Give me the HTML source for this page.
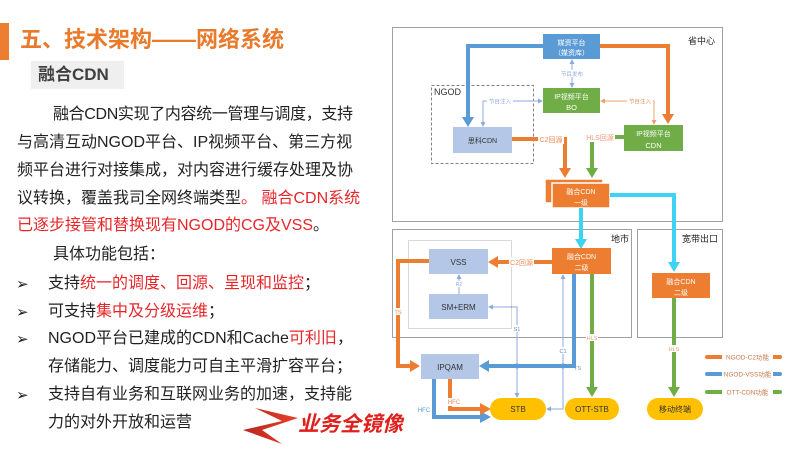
<!DOCTYPE html>
<html><head><meta charset="utf-8">
<style>
html,body{margin:0;padding:0;}
body{width:800px;height:450px;position:relative;overflow:hidden;background:#fff;font-family:"Liberation Sans","Noto Sans CJK SC",sans-serif;}
.abs{position:absolute;white-space:nowrap;}
.p{font-size:16px;line-height:28px;color:#222;}
.r{color:#e8262a;}
.b{font-family:"DejaVu Sans",sans-serif;font-size:15px;line-height:28px;color:#222;}
</style></head><body>
<div class="abs" style="left:0;top:23px;width:9px;height:37px;background:#ed7d31;"></div>
<div class="abs" style="left:20px;top:28px;font-size:22px;line-height:24px;font-weight:bold;color:#e97a2c;">五、技术架构——网络系统</div>
<div class="abs" style="left:31px;top:61px;width:93px;height:28px;background:#efefef;"></div>
<div class="abs" style="left:38px;top:62px;font-size:17px;line-height:26px;font-weight:bold;color:#404040;">融合CDN</div>

<div class="abs p" style="left:53px;top:101px;letter-spacing:-0.35px;">融合CDN实现了内容统一管理与调度，支持</div>
<div class="abs p" style="left:17px;top:129px;">与高清互动NGOD平台、IP视频平台、第三方视</div>
<div class="abs p" style="left:17px;top:157px;">频平台进行对接集成，对内容进行缓存处理及协</div>
<div class="abs p" style="left:17px;top:185px;">议转换，覆盖我司全网终端类型<span class="r">。 融合CDN系统</span></div>
<div class="abs p" style="left:17px;top:212px;"><span class="r">已逐步接管和替换现有NGOD的CG及VSS</span>。</div>
<div class="abs p" style="left:53px;top:241px;">具体功能包括：</div>

<div class="abs b" style="left:16px;top:270px;">➢</div>
<div class="abs p" style="left:48px;top:270px;">支持<span class="r">统一的调度、回源、呈现和监控</span>；</div>
<div class="abs b" style="left:16px;top:298px;">➢</div>
<div class="abs p" style="left:48px;top:298px;">可支持<span class="r">集中及分级运维</span>；</div>
<div class="abs b" style="left:16px;top:325px;">➢</div>
<div class="abs p" style="left:48px;top:325px;">NGOD平台已建成的CDN和Cache<span class="r">可利旧</span>，</div>
<div class="abs p" style="left:48px;top:353px;">存储能力、调度能力可自主平滑扩容平台；</div>
<div class="abs b" style="left:16px;top:381px;">➢</div>
<div class="abs p" style="left:48px;top:381px;">支持自有业务和互联网业务的加速，支持能</div>
<div class="abs p" style="left:48px;top:409px;">力的对外开放和运营</div>

<div class="abs" style="left:298px;top:413px;font-size:21px;line-height:24px;font-weight:bold;font-style:italic;color:#e0201c;">业务全镜像</div>

<svg class="abs" style="left:0;top:0;" width="800" height="450" viewBox="0 0 800 450" font-family="Liberation Sans, Noto Sans CJK SC, sans-serif">
<defs>
<linearGradient id="zg" x1="0" y1="0" x2="1" y2="0"><stop offset="0" stop-color="#b8261c"/><stop offset="1" stop-color="#e8402c"/></linearGradient>
</defs>
<polygon points="255,408 298,418 262,430 282,444 243,430 282,421" fill="url(#zg)"/>

<rect x="392.5" y="27.5" width="330" height="194" fill="none" stroke="#a0a0a0" stroke-width="1"/>
<text x="688" y="44" font-size="9" fill="#222">省中心</text>
<rect x="392.5" y="229.5" width="239" height="108" fill="none" stroke="#a0a0a0" stroke-width="1"/>
<text x="611" y="242" font-size="9" fill="#222">地市</text>
<rect x="637.5" y="229.5" width="85" height="108" fill="none" stroke="#a0a0a0" stroke-width="1"/>
<text x="682" y="242" font-size="9" fill="#222">宽带出口</text>

<rect x="431.5" y="85.5" width="102" height="78" fill="none" stroke="#808080" stroke-width="1" stroke-dasharray="3,2"/>
<text x="434" y="95" font-size="9" fill="#333">NGOD</text>
<rect x="408.5" y="240.5" width="103" height="88" fill="none" stroke="#b0b0b0" stroke-width="1" stroke-dasharray="1,1"/>

<path d="M543,46 H468 V118" fill="none" stroke="#5b9bd5" stroke-width="4"/>
<polygon points="462,117 474,117 468,127" fill="#5b9bd5"/>
<path d="M600,46 H668 V115" fill="none" stroke="#ed7d31" stroke-width="4"/>
<polygon points="662,114 674,114 668,124" fill="#ed7d31"/>

<line x1="572" y1="63" x2="572" y2="84" stroke="#8faadc" stroke-width="1"/>
<polygon points="569.5,64 574.5,64 572,59" fill="#8faadc"/>
<polygon points="569.5,83 574.5,83 572,88" fill="#8faadc"/>
<rect x="559" y="70" width="26" height="7" fill="#fff"/>
<text x="572" y="76" font-size="5.5" fill="#8faadc" text-anchor="middle">节目发布</text>

<path d="M483,123 V101 H539" fill="none" stroke="#8faadc" stroke-width="1"/>
<polygon points="538,98.5 538,103.5 543,101" fill="#8faadc"/>
<polygon points="480.5,122 485.5,122 483,127" fill="#8faadc"/>
<rect x="487" y="98" width="26" height="7" fill="#fff"/>
<text x="500" y="103.5" font-size="5.5" fill="#8faadc" text-anchor="middle">节目注入</text>

<path d="M604,101 H654 V121" fill="none" stroke="#eda070" stroke-width="1"/>
<polygon points="605,98.5 605,103.5 600,101" fill="#eda070"/>
<polygon points="651.5,120 656.5,120 654,125" fill="#eda070"/>
<rect x="627" y="98" width="26" height="7" fill="#fff"/>
<text x="640" y="103.5" font-size="5.5" fill="#e09060" text-anchor="middle">节目注入</text>

<rect x="543" y="34" width="57" height="25" fill="#5b9bd5"/>
<text x="571.5" y="45" font-size="7" fill="#fff" text-anchor="middle">媒资平台</text>
<text x="571.5" y="55" font-size="7" fill="#fff" text-anchor="middle">（媒资库）</text>
<rect x="543" y="88" width="57" height="25" fill="#70ad47"/>
<text x="571.5" y="99" font-size="7" fill="#fff" text-anchor="middle">IP视频平台</text>
<text x="571.5" y="110" font-size="7.5" fill="#fff" text-anchor="middle">BO</text>
<rect x="453" y="127" width="59" height="26" fill="#b4c7e7"/>
<text x="482.5" y="143" font-size="7" fill="#333" text-anchor="middle">思科CDN</text>
<rect x="624" y="125" width="59" height="26" fill="#70ad47"/>
<text x="653.5" y="136" font-size="7" fill="#fff" text-anchor="middle">IP视频平台</text>
<text x="653.5" y="148" font-size="7.5" fill="#fff" text-anchor="middle">CDN</text>

<path d="M512,139 H565 V169" fill="none" stroke="#ed7d31" stroke-width="4"/>
<polygon points="559,168 571,168 565,178" fill="#ed7d31"/>
<rect x="538" y="134" width="26" height="10" fill="#fff"/>
<text x="551" y="142" font-size="7" fill="#f08a5a" text-anchor="middle">C2回源</text>
<path d="M624,137 H592 V169" fill="none" stroke="#70ad47" stroke-width="4"/>
<polygon points="586,168 598,168 592,178" fill="#70ad47"/>
<rect x="585" y="132" width="30" height="10" fill="#fff"/>
<text x="600" y="140" font-size="7" fill="#f09a7a" text-anchor="middle">HLS回源</text>

<rect x="545" y="179" width="58" height="24" fill="#ed7d31" stroke="#fff" stroke-width="1.5"/>
<rect x="552" y="183" width="58" height="25" fill="#ed7d31" stroke="#fff" stroke-width="1.5"/>
<text x="581" y="194" font-size="7" fill="#fff" text-anchor="middle">融合CDN</text>
<text x="581" y="205" font-size="7" fill="#fff" text-anchor="middle">一级</text>

<path d="M581,208 V240" fill="none" stroke="#3fd3f3" stroke-width="4"/>
<polygon points="575,239 587,239 581,249" fill="#3fd3f3"/>
<path d="M610,195 H674 V263" fill="none" stroke="#3fd3f3" stroke-width="4"/>
<polygon points="668,262 680,262 674,272" fill="#3fd3f3"/>

<rect x="429" y="249" width="59" height="25" fill="#b4c7e7"/>
<text x="458.5" y="265" font-size="8" fill="#333" text-anchor="middle">VSS</text>
<rect x="429" y="294" width="59" height="25" fill="#b4c7e7"/>
<text x="458.5" y="310" font-size="8" fill="#333" text-anchor="middle">SM+ERM</text>
<line x1="459" y1="278" x2="459" y2="294" stroke="#8faadc" stroke-width="1"/>
<polygon points="456.5,279 461.5,279 459,274" fill="#8faadc"/>
<rect x="455" y="281" width="8" height="6" fill="#fff"/>
<text x="459" y="286" font-size="5" fill="#8faadc" text-anchor="middle">R2</text>

<rect x="552" y="248" width="59" height="26" fill="#ed7d31"/>
<text x="581.5" y="259" font-size="7" fill="#fff" text-anchor="middle">融合CDN</text>
<text x="581.5" y="270" font-size="7" fill="#fff" text-anchor="middle">二级</text>
<rect x="652" y="273" width="58" height="25" fill="#ed7d31"/>
<text x="681" y="284" font-size="7" fill="#fff" text-anchor="middle">融合CDN</text>
<text x="681" y="295" font-size="7" fill="#fff" text-anchor="middle">二级</text>

<path d="M552,262 H497" fill="none" stroke="#ed7d31" stroke-width="4"/>
<polygon points="498,256 498,268 488,262" fill="#ed7d31"/>
<rect x="509" y="257" width="25" height="10" fill="#fff"/>
<text x="521.5" y="265" font-size="7" fill="#f08a5a" text-anchor="middle">C2回源</text>

<path d="M429,261 H398 V366 H411" fill="none" stroke="#ed7d31" stroke-width="4"/>
<polygon points="410,360 410,372 420,366" fill="#ed7d31"/>
<rect x="393" y="308" width="10" height="7" fill="#fff"/>
<text x="398" y="314" font-size="5.5" fill="#f08a5a" text-anchor="middle">TS</text>

<path d="M574,274 V366 H488" fill="none" stroke="#5b9bd5" stroke-width="4"/>
<polygon points="489,360 489,372 479,366" fill="#5b9bd5"/>
<text x="574" y="370" font-size="5.5" fill="#5b9bd5">TS</text>

<path d="M592,274 V388" fill="none" stroke="#70ad47" stroke-width="4"/>
<polygon points="586,387 598,387 592,397" fill="#70ad47"/>
<rect x="586" y="334" width="12" height="7" fill="#fff"/>
<text x="592" y="340" font-size="5.5" fill="#e0a080" text-anchor="middle">HLS</text>
<path d="M674,298 V388" fill="none" stroke="#70ad47" stroke-width="4"/>
<polygon points="668,387 680,387 674,397" fill="#70ad47"/>
<rect x="668" y="345" width="12" height="7" fill="#fff"/>
<text x="674" y="351" font-size="5.5" fill="#e0a080" text-anchor="middle">HLS</text>

<path d="M492,307 H517 V394" fill="none" stroke="#8faadc" stroke-width="1"/>
<polygon points="493,304.5 493,309.5 488,307" fill="#8faadc"/>
<polygon points="514.5,393 519.5,393 517,398" fill="#8faadc"/>
<rect x="512" y="325" width="10" height="7" fill="#fff"/>
<text x="517" y="331" font-size="5.5" fill="#5b8bc5" text-anchor="middle">S1</text>
<path d="M550,409 H563 V278" fill="none" stroke="#8faadc" stroke-width="1"/>
<polygon points="560.5,279 565.5,279 563,274" fill="#8faadc"/>
<polygon points="551,406.5 551,411.5 546,409" fill="#8faadc"/>
<rect x="558" y="347" width="10" height="7" fill="#fff"/>
<text x="563" y="353" font-size="5.5" fill="#5b8bc5" text-anchor="middle">C1</text>
<circle cx="517" cy="366" r="2.5" fill="#5b9bd5"/>
<circle cx="563" cy="366" r="2.5" fill="#5b9bd5"/>

<rect x="421" y="354" width="58" height="25" fill="#b4c7e7"/>
<text x="450" y="370" font-size="8" fill="#333" text-anchor="middle">IPQAM</text>

<path d="M434,379 V417 H481" fill="none" stroke="#5b9bd5" stroke-width="4"/>
<polygon points="480,411 480,423 491,417" fill="#5b9bd5"/>
<text x="424" y="412" font-size="6" fill="#5b9bd5" text-anchor="middle">HFC</text>
<path d="M450,379 V409 H481" fill="none" stroke="#ed7d31" stroke-width="4"/>
<polygon points="480,403 480,415 491,409" fill="#ed7d31"/>
<rect x="446" y="398" width="16" height="8" fill="#fff"/>
<text x="454" y="404" font-size="6" fill="#f08a5a" text-anchor="middle">HFC</text>

<rect x="490" y="398" width="56" height="22" rx="11" fill="#ffc000"/>
<text x="518" y="412" font-size="8" fill="#333" text-anchor="middle">STB</text>
<rect x="565" y="398" width="54" height="22" rx="11" fill="#ffc000"/>
<text x="592" y="412" font-size="8" fill="#333" text-anchor="middle">OTT-STB</text>
<rect x="647" y="398" width="56" height="22" rx="11" fill="#ffc000"/>
<text x="675" y="412" font-size="8" fill="#333" text-anchor="middle">移动终端</text>

<line x1="707" y1="357" x2="780" y2="357" stroke="#ed7d31" stroke-width="4" stroke-linecap="round"/>
<rect x="722" y="353" width="51" height="8" fill="#fff"/>
<text x="747.5" y="359.5" font-size="6.5" fill="#c8784a" text-anchor="middle">NGOD-C2功能</text>
<line x1="707" y1="374" x2="780" y2="374" stroke="#5b9bd5" stroke-width="4" stroke-linecap="round"/>
<rect x="722" y="370" width="51" height="8" fill="#fff"/>
<text x="747.5" y="376.5" font-size="6.5" fill="#c8784a" text-anchor="middle">NGOD-VSS功能</text>
<line x1="707" y1="392" x2="780" y2="392" stroke="#70ad47" stroke-width="4" stroke-linecap="round"/>
<rect x="722" y="388" width="51" height="8" fill="#fff"/>
<text x="747.5" y="394.5" font-size="6.5" fill="#c8784a" text-anchor="middle">OTT-CDN功能</text>
</svg>
</body></html>
